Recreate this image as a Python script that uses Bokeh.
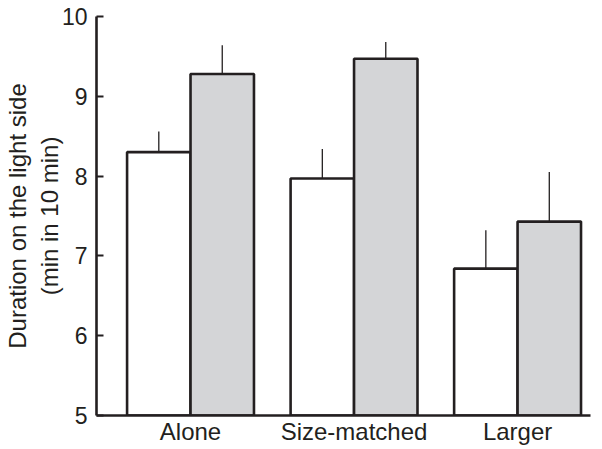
import numpy as np
from bokeh.plotting import figure
from bokeh.models import Range1d, FixedTicker, ColumnDataSource
from bokeh.embed import file_html
from bokeh.resources import INLINE

categories = ["Alone", "Size-matched", "Larger"]
white_means = [8.30, 7.97, 6.84]
white_err = [0.26, 0.37, 0.48]
grey_means = [9.28, 9.47, 7.43]
grey_err = [0.36, 0.21, 0.62]
y_ticks = [5, 6, 7, 8, 9, 10]

INK = "#231f20"
GREY = "#d4d5d7"
FONT = "Liberation Sans"
BAR_W = 0.388

centers = np.arange(len(categories)) + 0.5

p = figure(width=602, height=449, output_backend="svg", toolbar_location=None,
           x_range=Range1d(-0.075, 2.946), y_range=Range1d(5, 10),
           min_border_top=16, min_border_left=96, min_border_right=12, min_border_bottom=34)
p.outline_line_color = None
p.grid.visible = False
p.background_fill_color = "white"
p.border_fill_color = "white"

src_w = ColumnDataSource(dict(x=centers - BAR_W / 2, top=white_means,
                              etop=np.array(white_means) + np.array(white_err)))
src_g = ColumnDataSource(dict(x=centers + BAR_W / 2, top=grey_means,
                              etop=np.array(grey_means) + np.array(grey_err)))

for src, fill in ((src_w, "white"), (src_g, GREY)):
    p.segment(x0="x", y0="top", x1="x", y1="etop", source=src,
              line_color=INK, line_width=1.3)
    p.vbar(x="x", top="top", bottom=5, width=BAR_W, source=src,
           fill_color=fill, line_color=INK, line_width=2.6)

# y axis
ya = p.yaxis[0]
ya.ticker = FixedTicker(ticks=y_ticks)
ya.axis_line_width = 2.6
ya.axis_line_color = INK
ya.major_tick_in = 7
ya.major_tick_out = 0
ya.major_tick_line_width = 2
ya.major_tick_line_color = INK
ya.minor_tick_line_color = None
ya.major_label_text_font = FONT
ya.major_label_text_font_size = "23px"
ya.major_label_text_color = INK
ya.major_label_standoff = 9
ya.axis_label = "Duration on the light side\n(min in 10 min)"
ya.axis_label_text_font = FONT
ya.axis_label_text_font_size = "24px"
ya.axis_label_text_font_style = "normal"
ya.axis_label_text_color = INK
ya.axis_label_standoff = -4

# x axis
xa = p.xaxis[0]
xa.ticker = FixedTicker(ticks=list(centers))
xa.major_label_overrides = {float(c): lab for c, lab in zip(centers, categories)}
xa.axis_line_width = 2.6
xa.axis_line_color = INK
xa.major_tick_in = 0
xa.major_tick_out = 0
xa.minor_tick_line_color = None
xa.major_label_text_font = FONT
xa.major_label_text_font_size = "24px"
xa.major_label_text_color = INK
xa.major_label_standoff = 2

open("out.html", "w").write(file_html(p, INLINE))
